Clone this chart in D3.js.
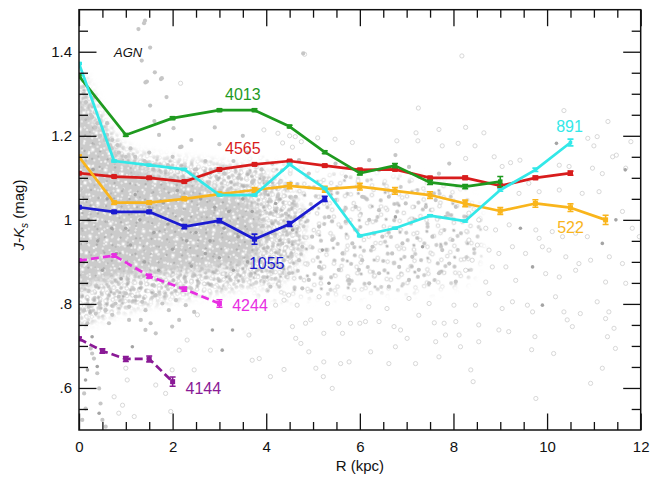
<!DOCTYPE html>
<html>
<head>
<meta charset="utf-8">
<script src="https://cdn.jsdelivr.net/npm/d3@7/dist/d3.min.js"></script>
<style>
  html, body { margin: 0; padding: 0; background: #fff; }
  svg { display: block; font-family: "Liberation Sans", Arial, Helvetica, sans-serif; }
</style>
</head>
<body>
<svg id="chart" width="666" height="481"></svg>
<script>
// ---- axis ticks ----
const xMajorTicks = [0, 2, 4, 6, 8, 10, 12];
const xMinorTicks = [0.5, 1, 1.5, 2.5, 3, 3.5, 4.5, 5, 5.5, 6.5, 7, 7.5, 8.5, 9, 9.5, 10.5, 11, 11.5];
const yMajorTicks = [0.6, 0.8, 1.0, 1.2, 1.4];
const yTickLabels = [".6", ".8", "1", "1.2", "1.4"];
const yMinorTicks = [0.55, 0.65, 0.7, 0.75, 0.85, 0.9, 0.95, 1.05, 1.1, 1.15, 1.25, 1.3, 1.35, 1.45];

// ---- galaxy profiles: radius (kpc), J-Ks colour (mag), error ----
const r4013 = [0, 1, 2, 3, 3.75, 4.5, 5.25, 6, 6.75, 7.5, 8.25, 9];
const v4013 = [1.342, 1.202, 1.242, 1.261, 1.261, 1.222, 1.161, 1.111, 1.129, 1.089, 1.079, 1.091];
const e4013 = [0.003, 0.003, 0.003, 0.003, 0.003, 0.003, 0.003, 0.004, 0.005, 0.005, 0.005, 0.012];

const r4565 = [0, 0.75, 1.5, 2.25, 3, 3.75, 4.5, 5.25, 6, 6.75, 7.5, 8.25, 9, 9.75, 10.5];
const v4565 = [1.111, 1.103, 1.100, 1.091, 1.120, 1.132, 1.140, 1.129, 1.119, 1.120, 1.100, 1.100, 1.081, 1.100, 1.111];
const e4565 = [0.003, 0.003, 0.003, 0.003, 0.003, 0.003, 0.003, 0.003, 0.003, 0.003, 0.003, 0.004, 0.004, 0.004, 0.005];

const r891 = [0, 0.75, 1.5, 2.25, 3, 3.75, 4.5, 5.25, 6, 6.75, 7.5, 8.25, 9, 9.75, 10.5];
const v891 = [1.372, 1.140, 1.130, 1.120, 1.059, 1.059, 1.132, 1.075, 0.962, 0.980, 1.010, 0.997, 1.071, 1.119, 1.184];
const e891 = [0.002, 0.002, 0.002, 0.002, 0.002, 0.002, 0.002, 0.002, 0.002, 0.002, 0.002, 0.002, 0.003, 0.004, 0.008];

const r522 = [0, 0.75, 1.5, 2.25, 3, 3.75, 4.5, 5.25, 6, 6.75, 7.5, 8.25, 9, 9.75, 10.5, 11.25];
const v522 = [1.150, 1.041, 1.041, 1.050, 1.061, 1.071, 1.081, 1.073, 1.079, 1.069, 1.059, 1.039, 1.021, 1.039, 1.029, 1.000];
const e522 = [0.004, 0.004, 0.004, 0.004, 0.005, 0.006, 0.007, 0.007, 0.008, 0.008, 0.008, 0.008, 0.008, 0.009, 0.009, 0.011];

const r1055 = [0, 0.75, 1.5, 2.25, 3, 3.75, 4.5, 5.25];
const v1055 = [1.030, 1.019, 1.019, 0.984, 0.998, 0.954, 0.990, 1.050];
const e1055 = [0.003, 0.003, 0.004, 0.005, 0.005, 0.012, 0.006, 0.006];

const r4244 = [0, 0.75, 1.5, 2.25, 3];
const v4244 = [0.903, 0.915, 0.866, 0.835, 0.801];
const e4244 = [0.003, 0.003, 0.004, 0.005, 0.009];

const r4144 = [0, 0.5, 1, 1.5, 2];
const v4144 = [0.717, 0.688, 0.669, 0.669, 0.615];
const e4144 = [0.004, 0.005, 0.006, 0.007, 0.011];

// ---- background comparison sample ----
// crowded regions of the sample (R, J-Ks), from densest to sparsest
const cloudCore = [[0,1.30],[0.3,1.24],[0.6,1.19],[0.9,1.15],[1.4,1.12],[2.0,1.10],[2.8,1.08],[3.4,1.06],[3.8,1.02],[3.9,0.95],[3.6,0.9],[3.0,0.885],[2.4,0.88],[1.8,0.875],[1.2,0.87],[0.7,0.86],[0.3,0.85],[0,0.83]];
const cloudOuter = [[0,1.35],[0.4,1.27],[0.7,1.21],[1.0,1.17],[1.6,1.15],[2.4,1.14],[3.2,1.13],[4.0,1.11],[4.6,1.06],[4.8,0.95],[4.4,0.86],[3.5,0.84],[2.5,0.82],[1.5,0.80],[0.8,0.78],[0.3,0.76],[0,0.75]];
const cloudField = [[3.5,1.13],[5,1.11],[6.5,1.1],[8,1.08],[8.6,1.0],[8.3,0.86],[6.5,0.83],[5,0.82],[3.8,0.83]];

// individual objects, filled grey
const bgFilled = [
  [1.41,1.474],[1.27,1.454],[1.52,1.41],[1.34,1.379],[1.62,1.351],[1.75,1.335],[1.42,1.327],[1.87,1.292],[1.52,1.272],
  [1.61,1.235],[1.71,1.202],[2.16,1.173],[1.45,1.329],[1.77,1.337],[2.02,1.218],[2.19,1.174],[1.39,1.468],[4.79,1.396],
  [0.28,1.245],[0.39,1.23],[0.5,1.214],[0.6,1.202],[0.71,1.19],[0.82,1.178],[0.1,1.3],[0.15,1.28],[0.25,1.25],[0.35,1.22],
  [0.45,1.2],[0.55,1.19],[0.7,1.17],[0.85,1.16],[1.0,1.15],[1.2,1.15],[1.4,1.14],[1.6,1.13],[1.9,1.13],[2.2,1.12],
  [2.5,1.12],[2.8,1.11],[3.1,1.11],[3.4,1.1],[3.7,1.09],[1.1,1.17],[1.5,1.16],[2.0,1.15],[2.7,1.14],[3.3,1.14],[3.9,1.12],
  [0.6,1.23],[0.3,1.29],[2.4,1.19],[3.0,1.18],[3.5,1.2],[2.9,1.22],[3.6,1.16],
  [4.13,1.134],[4.34,1.118],[4.7,1.142],[4.91,1.11],[5.48,1.134],[5.7,1.103],[6.2,1.142],[6.41,1.118],[6.76,1.154],
  [7.05,1.126],[7.26,1.103],[7.69,1.11],[7.91,1.134],[4.42,1.015],[4.63,1.055],[4.98,1.027],[5.13,0.984],[5.34,1.007],
  [5.48,1.047],[5.7,0.996],[5.91,1.031],[6.05,1.055],[6.2,1.0],[6.41,1.023],[6.62,1.055],[6.98,1.039],[7.19,1.0],
  [7.41,1.031],[7.62,1.047],[7.83,1.007],[8.05,1.031],[4.13,0.968],[4.34,0.944],[4.77,0.936],[4.98,0.96],[5.41,0.952],
  [5.63,0.92],[5.84,0.944],[6.05,0.904],[6.27,0.936],[6.48,0.96],[6.69,0.92],[6.91,0.944],[7.12,0.912],[7.55,0.96],
  [7.76,0.928],[7.98,0.952],[4.2,0.896],[4.49,0.873],[4.7,0.904],[4.91,0.857],[5.13,0.888],[5.55,0.881],[5.77,0.857],
  [5.98,0.881],[6.2,0.849],[6.41,0.873],[6.62,0.841],[6.84,0.888],[7.05,0.857],[7.26,0.881],[7.48,0.849],[7.69,0.873],
  [7.91,0.896],[8.05,0.853],[4.09,0.841],[4.77,0.837],
  [0.21,0.793],[0.36,0.777],[0.43,0.801],[0.57,0.785],[0.71,0.774],[0.78,0.801],[0.64,0.754],[0.85,0.817],[1.0,0.825],
  [1.07,0.793],[1.21,0.817],[1.35,0.805],[1.42,0.785],[1.07,0.762],[1.32,0.762],[1.53,0.754],[1.64,0.821],[1.78,0.801],
  [1.92,0.785],[2.07,0.809],[2.28,0.797],[2.46,0.781],[1.64,0.73],[1.42,0.738],[1.99,0.746],[2.14,0.762],
  [0.11,0.785],[0.18,0.754],[0.28,0.682],[0.39,0.635],[0.43,0.599],[0.11,0.587],[0.46,0.563],[0.5,0.524],[0.57,0.508],
  [0.14,0.551],[0.07,0.524],[0.32,0.67],[0.25,0.694]
];

// individual objects, dark grey
const bgDark = [
  [0.28,0.722],[0.18,0.643],[0.14,0.619],[0.43,0.54],[0.39,0.651],[2.85,0.738],[3.28,0.738],[3.06,0.69],[1.14,0.698],
  [4.2,1.039],[4.77,1.007],[6.76,1.007],[4.56,0.976],[5.2,0.928],[7.34,0.936],[5.34,0.849],[9.43,0.98],[11.47,1.0],
  [11.18,0.944],[9.69,0.888],[9.9,0.797],[10.2,1.182],[11.67,1.119],
  [0.2,1.0],[0.4,0.95],[0.6,1.05],[0.8,0.92],[1.0,0.98],[1.2,1.06],[1.4,0.9],[1.6,0.97],[1.8,1.04],[2.0,0.93],[2.2,1.0],
  [2.4,0.89],[2.6,1.05],[2.8,0.95],[3.0,0.91],[3.2,1.02],[3.4,0.96],[3.6,0.9],[0.3,1.12],[0.5,0.88],[0.9,0.86],[1.3,1.0],
  [1.7,0.88],[2.1,1.07],[2.5,0.97],[2.9,1.03],[3.3,0.88],[3.7,1.02],[0.1,0.9],[0.7,0.98],[1.1,0.94],[1.5,1.03],[1.9,0.99],
  [2.3,0.95],[2.7,0.92],[3.1,0.98],[3.5,1.05]
];

// individual objects, open symbols
const bgOpen = [
  [4.82,1.394],[8.18,1.39],[7.25,1.266],[10.36,1.26],[11.3,1.234],[8.26,1.22],[7.69,1.215],[8.65,1.207],[7.2,1.207],
  [4.25,1.206],[4.5,1.2],[4.62,1.198],[5.1,1.195],[5.47,1.192],[5.84,1.184],[6.79,1.188],[7.24,1.188],[7.76,1.176],
  [8.1,1.182],[8.46,1.176],[10.87,1.194],[11.07,1.198],[11.0,1.176],[11.79,1.186],[4.35,1.183],[4.56,1.173],[4.75,1.186],
  [11.48,1.154],[3.95,1.214],[2.17,1.325],
  [8.26,1.146],[8.87,1.15],[9.04,1.127],[9.22,1.136],[9.42,1.142],[10.26,1.13],[10.47,1.127],[10.97,1.123],[11.18,1.11],
  [11.4,1.15],[11.68,1.123],[9.61,1.087],[9.4,1.063],[9.83,1.067],[10.26,1.071],[10.75,1.063],[11.11,1.067],[11.61,1.02],
  [11.82,0.98],[11.97,0.96],[8.33,1.016],[8.54,1.0],[8.69,0.98],[8.9,0.976],[9.19,0.988],[9.76,0.976],[9.83,0.956],
  [10.11,0.972],[10.33,0.96],[10.61,0.968],[10.86,0.96],[8.33,0.952],[8.51,0.94],[8.76,0.928],[8.97,0.92],[9.26,0.936],
  [9.54,0.92],[9.9,0.936],[10.04,0.928],[10.4,0.912],[10.68,0.896],[10.93,0.904],[11.33,0.912],[11.61,0.896],[8.4,0.904],
  [8.26,0.88],[8.83,0.888],[9.12,0.888],[9.97,0.872],[10.26,0.864],[10.61,0.88],[9.33,0.856],[8.69,0.852],[11.25,0.852],
  [11.68,0.849],
  [4.2,0.797],[4.38,0.809],[4.48,0.821],[4.66,0.797],[4.84,0.754],[4.56,0.746],[4.63,0.718],[4.74,0.706],[4.91,0.686],
  [4.95,0.762],[5.13,0.817],[5.23,0.73],[5.31,0.801],[5.55,0.754],[5.63,0.73],[5.77,0.813],[5.8,0.754],[6.0,0.754],
  [6.12,0.758],[6.19,0.793],[6.23,0.686],[6.41,0.758],[6.58,0.789],[6.73,0.746],[6.76,0.698],[6.87,0.738],[7.01,0.718],
  [7.05,0.813],[7.19,0.658],[7.26,0.773],[7.48,0.801],[7.59,0.755],[7.62,0.71],[7.69,0.674],[7.8,0.754],[7.83,0.726],
  [8.01,0.797],[8.05,0.758],[8.12,0.726],[8.15,0.698],[8.37,0.643],[8.42,0.615],[8.47,0.797],[8.54,0.75],[8.54,0.71],
  [8.76,0.825],[8.97,0.738],[9.04,0.789],[9.18,0.734],[9.26,0.805],[9.58,0.797],[9.69,0.781],[9.74,0.722],[9.67,0.691],
  [9.76,0.575],[10.14,0.682],[10.18,0.817],[10.36,0.781],[10.43,0.762],[10.54,0.746],[10.71,0.777],[10.93,0.611],
  [11.07,0.805],[11.18,0.647],[11.25,0.765],[11.29,0.722],[11.32,0.781],[11.46,0.694],[11.43,0.742],[5.41,0.599],
  [5.23,0.662],[5.59,0.658],[5.77,0.662],[5.06,0.647],[4.38,0.644],[4.09,0.627],[6.62,0.658],[5.22,0.627],
  [2.81,0.69],[2.31,0.714],[2.14,0.69],[1.0,0.647],[1.03,0.619],[0.75,0.579],[0.93,0.559],[0.85,0.54],[1.18,0.532],
  [1.99,0.643],[1.85,0.587],[1.64,0.607],[2.46,0.643],[1.96,0.544],[3.85,0.67],[3.7,0.666],[3.63,0.726],[2.53,0.774]
];

// ---- layout ----
const svg = d3.select("#chart");
const W = 666, H = 481;
const plot = { left: 79, right: 640.7, top: 9.7, bottom: 430 };
const x = d3.scaleLinear().domain([0, 12]).range([plot.left, plot.right]);
const y = d3.scaleLinear().domain([0.5, 1.5]).range([plot.bottom, plot.top]);

const defs = svg.append("defs");
defs.append("clipPath").attr("id", "clip")
  .append("rect").attr("x", plot.left).attr("y", plot.top)
  .attr("width", plot.right - plot.left).attr("height", plot.bottom - plot.top);

// soft edge for the region masks
defs.append("filter").attr("id", "soft").attr("filterUnits", "userSpaceOnUse")
  .attr("x", 0).attr("y", 0).attr("width", W).attr("height", H)
  .append("feGaussianBlur").attr("stdDeviation", 5);

// one speckle layer: a tile with a few symbols, rotated
function speckle(id, size, angle, dots) {
  const p = defs.append("pattern").attr("id", id).attr("patternUnits", "userSpaceOnUse")
    .attr("width", size).attr("height", size)
    .attr("patternTransform", `rotate(${angle})`);
  dots.forEach(d => {
    const c = p.append("circle").attr("cx", d[0]).attr("cy", d[1]).attr("r", d[2]);
    if (d[4]) c.attr("fill", "#fff").attr("stroke", d[3]).attr("stroke-width", 0.9);
    else c.attr("fill", d[3]);
  });
  return id;
}

const blob = d3.line().x(d => x(d[0])).y(d => y(d[1])).curve(d3.curveCatmullRomClosed.alpha(0.5));

// a crowded region: overlapping speckle layers of different periods, faded at the edge
function region(id, poly, base, layers) {
  const m = defs.append("mask").attr("id", id).attr("maskUnits", "userSpaceOnUse")
    .attr("x", 0).attr("y", 0).attr("width", W).attr("height", H);
  m.append("path").attr("d", blob(poly)).attr("fill", "#fff").attr("filter", "url(#soft)");
  const rg = g.append("g").attr("mask", `url(#${id})`);
  if (base) rg.append("rect").attr("x", plot.left).attr("y", plot.top)
    .attr("width", plot.right - plot.left).attr("height", plot.bottom - plot.top).attr("fill", base);
  layers.forEach(pid => rg.append("rect").attr("x", plot.left).attr("y", plot.top)
    .attr("width", plot.right - plot.left).attr("height", plot.bottom - plot.top)
    .attr("fill", `url(#${pid})`));
}

const g = svg.append("g").attr("clip-path", "url(#clip)");

region("fieldMask", cloudField, null, [
  speckle("f1", 17, 11, [[4, 5, 2.0, "#c6c6c6"], [12, 13, 1.9, "#d0d0d0", true]]),
  speckle("f2", 19, 43, [[6, 3, 1.9, "#d2d2d2", true], [14, 11, 1.6, "#b8b8b8"]]),
  speckle("f3", 23, 67, [[5, 16, 2.0, "#cbcbcb"], [17, 6, 1.9, "#d6d6d6", true]]),
  speckle("f4", 29, 101, [[9, 9, 1.9, "#c2c2c2"], [22, 20, 1.9, "#d4d4d4", true]])
]);
region("outerMask", cloudOuter, null, [
  speckle("o1", 7, 14, [[2, 2, 2.0, "#cfcfcf"]]),
  speckle("o2", 9, 51, [[3, 6, 1.9, "#c6c6c6"], [7, 2, 1.9, "#d4d4d4", true]]),
  speckle("o3", 11, 77, [[4, 4, 1.8, "#bdbdbd"], [9, 9, 1.9, "#dadada", true]]),
  speckle("o4", 13, 109, [[6, 8, 1.7, "#b3b3b3"]])
]);
region("coreMask", cloudCore, "#cbcbcb", [
  speckle("c1", 7, 13, [[2, 2, 1.1, "#f2f2f2"]]),
  speckle("c2", 11, 47, [[3, 8, 1.2, "#aeaeae"], [8, 3, 1.1, "#ededed"]]),
  speckle("c3", 13, 71, [[5, 5, 1.2, "#f5f5f5"], [11, 10, 1.1, "#b6b6b6"]]),
  speckle("c4", 17, 103, [[6, 12, 1.9, "#d8d8d8", true]])
]);

g.append("g").selectAll("circle").data(bgOpen).join("circle")
  .attr("cx", d => x(d[0])).attr("cy", d => y(d[1])).attr("r", 2.1)
  .attr("fill", "#fff").attr("stroke", "#d2d2d2").attr("stroke-width", 0.9);
g.append("g").selectAll("circle").data(bgFilled).join("circle")
  .attr("cx", d => x(d[0])).attr("cy", d => y(d[1])).attr("r", 2.1)
  .attr("fill", "#c6c6c6");
g.append("g").selectAll("circle").data(bgDark).join("circle")
  .attr("cx", d => x(d[0])).attr("cy", d => y(d[1])).attr("r", 1.8)
  .attr("fill", "#a4a4a4");

// ---- profiles ----
const series = [
  { name: "4565", r: r4565, v: v4565, e: e4565, color: "#d81c1c", dash: null, ms: 5, lab: [3.5, 1.169] },
  { name: "522",  r: r522,  v: v522,  e: e522,  color: "#f9b51c", dash: null, ms: 5, lab: [10.5, 0.981] },
  { name: "4013", r: r4013, v: v4013, e: e4013, color: "#1f9a1f", dash: null, ms: 4.5, lab: [3.5, 1.299] },
  { name: "891",  r: r891,  v: v891,  e: e891,  color: "#33e8e8", dash: null, ms: 3.5, lab: [10.48, 1.223] },
  { name: "1055", r: r1055, v: v1055, e: e1055, color: "#1a1ad0", dash: null, ms: 5, lab: [4.01, 0.897] },
  { name: "4244", r: r4244, v: v4244, e: e4244, color: "#e82ee2", dash: "8,4", ms: 5, lab: [3.653, 0.797] },
  { name: "4144", r: r4144, v: v4144, e: e4144, color: "#8a1a96", dash: "8,4", ms: 5, lab: [2.656, 0.598] }
];

const line = d3.line().x(d => x(d[0])).y(d => y(d[1]));

series.forEach(s => {
  const pts = s.r.map((r, i) => [r, s.v[i], s.e[i]]);
  const sg = g.append("g");
  sg.append("path").attr("d", line(pts)).attr("fill", "none")
    .attr("stroke", s.color).attr("stroke-width", 2.7)
    .attr("stroke-linejoin", "round")
    .attr("stroke-dasharray", s.dash);
  // error bars
  sg.selectAll("path.err").data(pts).join("path").attr("class", "err")
    .attr("d", d => {
      const cx = x(d[0]), y0 = y(d[1] - d[2]), y1 = y(d[1] + d[2]);
      return `M${cx},${y0}V${y1}M${cx - 3},${y0}H${cx + 3}M${cx - 3},${y1}H${cx + 3}`;
    })
    .attr("stroke", s.color).attr("stroke-width", 1.6).attr("fill", "none");
  sg.selectAll("rect").data(pts).join("rect")
    .attr("x", d => x(d[0]) - s.ms / 2).attr("y", d => y(d[1]) - s.ms / 2)
    .attr("width", s.ms).attr("height", s.ms).attr("fill", s.color);
});

// profile labels
svg.append("g").selectAll("text").data(series).join("text")
  .attr("x", d => x(d.lab[0])).attr("y", d => y(d.lab[1]))
  .attr("text-anchor", "middle").attr("dominant-baseline", "central")
  .attr("font-size", 16).attr("fill", d => d.color)
  .text(d => d.name);

svg.append("text").attr("x", 114).attr("y", 57)
  .attr("font-size", 13).attr("font-style", "italic").attr("fill", "#111")
  .text("AGN");

// ---- axes: ticks point inwards on all four sides ----
const axisStyle = sel => {
  sel.select(".domain").remove();
  sel.selectAll("line").attr("stroke", "#111").attr("stroke-width", 1.3);
  sel.selectAll("text").attr("font-size", 15).attr("fill", "#111")
    .attr("font-family", "Liberation Sans, Arial, sans-serif");
};

svg.append("g").attr("transform", `translate(0,${plot.bottom})`)
  .call(d3.axisBottom(x).tickValues(xMajorTicks).tickSize(-16.5).tickPadding(11).tickFormat(d3.format("d")))
  .call(axisStyle);
svg.append("g").attr("transform", `translate(0,${plot.bottom})`)
  .call(d3.axisBottom(x).tickValues(xMinorTicks).tickSize(-8).tickFormat(""))
  .call(axisStyle);
svg.append("g").attr("transform", `translate(0,${plot.top})`)
  .call(d3.axisTop(x).tickValues(xMajorTicks).tickSize(-16.5).tickFormat(""))
  .call(axisStyle);
svg.append("g").attr("transform", `translate(0,${plot.top})`)
  .call(d3.axisTop(x).tickValues(xMinorTicks).tickSize(-8).tickFormat(""))
  .call(axisStyle);

svg.append("g").attr("transform", `translate(${plot.left},0)`)
  .call(d3.axisLeft(y).tickValues(yMajorTicks).tickSize(-17.5).tickPadding(7)
    .tickFormat((d, i) => yTickLabels[i]))
  .call(axisStyle);
svg.append("g").attr("transform", `translate(${plot.left},0)`)
  .call(d3.axisLeft(y).tickValues(yMinorTicks).tickSize(-9).tickFormat(""))
  .call(axisStyle);
svg.append("g").attr("transform", `translate(${plot.right},0)`)
  .call(d3.axisRight(y).tickValues(yMajorTicks).tickSize(-17.5).tickFormat(""))
  .call(axisStyle);
svg.append("g").attr("transform", `translate(${plot.right},0)`)
  .call(d3.axisRight(y).tickValues(yMinorTicks).tickSize(-9).tickFormat(""))
  .call(axisStyle);

// frame
svg.append("rect").attr("x", plot.left).attr("y", plot.top)
  .attr("width", plot.right - plot.left).attr("height", plot.bottom - plot.top)
  .attr("fill", "none").attr("stroke", "#111").attr("stroke-width", 1.5);

// axis titles
svg.append("text").attr("x", (plot.left + plot.right) / 2).attr("y", 471)
  .attr("text-anchor", "middle").attr("font-size", 15).attr("fill", "#111")
  .text("R (kpc)");

const yt = svg.append("text")
  .attr("transform", "translate(24,215) rotate(-90)")
  .attr("text-anchor", "middle").attr("font-size", 15).attr("fill", "#111");
yt.append("tspan").attr("font-style", "italic").text("J-K");
yt.append("tspan").attr("font-style", "italic").attr("font-size", 10).attr("dy", 4).text("s");
yt.append("tspan").attr("dy", -4).text(" (mag)");
</script>
</body>
</html>
